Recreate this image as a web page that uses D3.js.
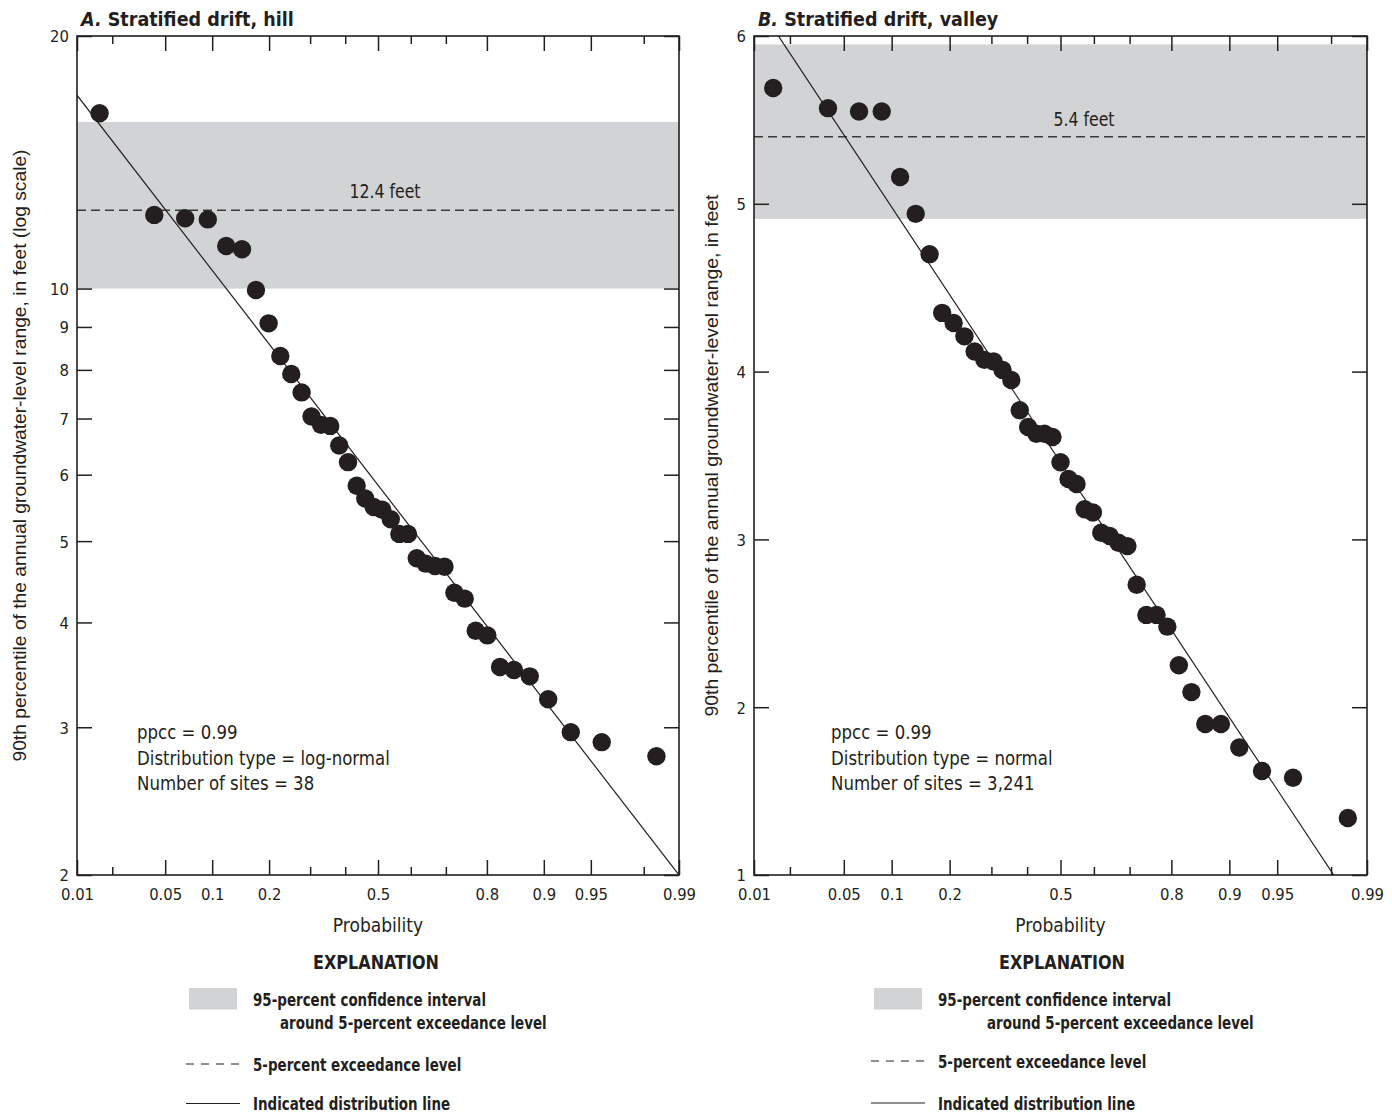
<!DOCTYPE html>
<html>
<head>
<meta charset="utf-8">
<script src="https://cdn.jsdelivr.net/npm/d3@7"></script>
<style>
  html, body { margin: 0; padding: 0; background: #fff; }
  svg { display: block; }
  .cond { font-family: "Liberation Sans Narrow", "DejaVu Sans Condensed", "Arial Narrow", sans-serif; }
  .reg { font-family: "Liberation Sans", Arial, sans-serif; }
</style>
</head>
<body>
<svg id="chart" width="1392" height="1116"></svg>
<script>
// ---------------- DATA ----------------
const probTicks = [0.01, 0.02, 0.05, 0.1, 0.2, 0.3, 0.4, 0.5, 0.6, 0.7, 0.8, 0.9, 0.95, 0.98, 0.99];
const probLabels = [0.01, 0.05, 0.1, 0.2, 0.5, 0.8, 0.9, 0.95, 0.99];

// Panel A: Stratified drift, hill (log scale)
const hillYTicks = [2, 3, 4, 5, 6, 7, 8, 9, 10, 20];
const hillProb = [0.0157, 0.0419, 0.0681, 0.0942, 0.1204, 0.1466, 0.1728, 0.1990, 0.2251, 0.2513,
                  0.2775, 0.3037, 0.3298, 0.3560, 0.3822, 0.4084, 0.4346, 0.4607, 0.4869, 0.5131,
                  0.5393, 0.5654, 0.5916, 0.6178, 0.6440, 0.6702, 0.6963, 0.7225, 0.7487, 0.7749,
                  0.8010, 0.8272, 0.8534, 0.8796, 0.9058, 0.9319, 0.9581, 0.9843];
const hillValue = [16.18, 12.24, 12.13, 12.09, 11.24, 11.14, 9.96, 9.09, 8.31, 7.91,
                   7.52, 7.04, 6.88, 6.86, 6.50, 6.21, 5.82, 5.62, 5.49, 5.45,
                   5.31, 5.10, 5.10, 4.77, 4.70, 4.67, 4.66, 4.34, 4.27, 3.91,
                   3.86, 3.54, 3.51, 3.45, 3.24, 2.96, 2.88, 2.77];
const hillExceed = 12.4;
const hillCI = [10.0, 15.8];
const hillLineProb = [0.01, 0.99];
const hillLineValue = [17.0, 2.0];

// Panel B: Stratified drift, valley (linear scale)
const valleyYTicks = [1, 2, 3, 4, 5, 6];
const valleyProb = [0.0146, 0.0388, 0.0631, 0.0874, 0.1117, 0.1359, 0.1602, 0.1845, 0.2087, 0.2330,
                    0.2573, 0.2816, 0.3058, 0.3301, 0.3544, 0.3786, 0.4029, 0.4272, 0.4515, 0.4757,
                    0.5000, 0.5243, 0.5485, 0.5728, 0.5971, 0.6214, 0.6456, 0.6699, 0.6942, 0.7184,
                    0.7427, 0.7670, 0.7913, 0.8155, 0.8398, 0.8641, 0.8883, 0.9126, 0.9369, 0.9612, 0.9854];
const valleyValue = [5.69, 5.57, 5.55, 5.55, 5.16, 4.94, 4.70, 4.35, 4.29, 4.21,
                     4.12, 4.07, 4.06, 4.01, 3.95, 3.77, 3.67, 3.63, 3.63, 3.61,
                     3.46, 3.36, 3.33, 3.18, 3.16, 3.04, 3.02, 2.98, 2.96, 2.73,
                     2.55, 2.55, 2.48, 2.25, 2.09, 1.90, 1.90, 1.76, 1.62, 1.58, 1.34];
const valleyExceed = 5.4;
const valleyCI = [4.91, 5.95];
const valleyLineProb = [0.01, 0.99];
const valleyLineValue = [6.22, 0.70];

// ---------------- HELPERS ----------------
// inverse standard normal CDF (Acklam)
function probit(p) {
  const a = [-3.969683028665376e+01, 2.209460984245205e+02, -2.759285104469687e+02, 1.383577518672690e+02, -3.066479806614716e+01, 2.506628277459239e+00];
  const b = [-5.447609879822406e+01, 1.615858368580409e+02, -1.556989798598866e+02, 6.680131188771972e+01, -1.328068155288572e+01];
  const c = [-7.784894002430293e-03, -3.223964580411365e-01, -2.400758277161838e+00, -2.549732539343734e+00, 4.374664141464968e+00, 2.938163982698783e+00];
  const d = [7.784695709041462e-03, 3.224671290700398e-01, 2.445134137142996e+00, 3.754408661907416e+00];
  const pl = 0.02425, ph = 1 - pl;
  let q, r;
  if (p < pl) {
    q = Math.sqrt(-2 * Math.log(p));
    return (((((c[0]*q+c[1])*q+c[2])*q+c[3])*q+c[4])*q+c[5]) / ((((d[0]*q+d[1])*q+d[2])*q+d[3])*q+1);
  } else if (p <= ph) {
    q = p - 0.5; r = q*q;
    return (((((a[0]*r+a[1])*r+a[2])*r+a[3])*r+a[4])*r+a[5])*q / (((((b[0]*r+b[1])*r+b[2])*r+b[3])*r+b[4])*r+1);
  } else {
    q = Math.sqrt(-2 * Math.log(1 - p));
    return -(((((c[0]*q+c[1])*q+c[2])*q+c[3])*q+c[4])*q+c[5]) / ((((d[0]*q+d[1])*q+d[2])*q+d[3])*q+1);
  }
}

// narrow a text element horizontally to mimic a condensed typeface
function squeeze(sel, f) {
  sel.each(function () {
    const L = this.getComputedTextLength();
    d3.select(this).attr('textLength', L * f).attr('lengthAdjust', 'spacingAndGlyphs');
  });
  return sel;
}

const svg = d3.select('#chart');
const INK = '#231f20';
const BAND = '#d1d3d4';

function drawPanel(cfg) {
  const g = svg.append('g');
  const top = 36, bottom = 875;
  const x = d3.scaleLinear().domain([probit(0.01), probit(0.99)]).range([cfg.left, cfg.right]);
  const y = cfg.log
    ? d3.scaleLog().domain(cfg.yDomain).range([bottom, top])
    : d3.scaleLinear().domain(cfg.yDomain).range([bottom, top]);
  const X = p => x(probit(p));

  const clipId = 'clip' + cfg.id;
  svg.append('clipPath').attr('id', clipId).append('rect')
    .attr('x', cfg.left).attr('y', top).attr('width', cfg.right - cfg.left).attr('height', bottom - top);

  // confidence band
  g.append('rect')
    .attr('x', cfg.left).attr('width', cfg.right - cfg.left)
    .attr('y', y(cfg.ci[1])).attr('height', y(cfg.ci[0]) - y(cfg.ci[1]))
    .attr('fill', BAND);

  // exceedance dashed line
  g.append('line')
    .attr('x1', cfg.left).attr('x2', cfg.right)
    .attr('y1', y(cfg.exceed)).attr('y2', y(cfg.exceed))
    .attr('stroke', '#3a3a3a').attr('stroke-width', 1.4).attr('stroke-dasharray', '9,5');

  squeeze(g.append('text').attr('class', 'cond')
    .attr('x', cfg.exceedLabelX).attr('y', cfg.exceedLabelY)
    .attr('text-anchor', 'middle').attr('font-size', 19).attr('fill', INK)
    .text(cfg.exceedLabel), 0.92);

  // distribution line
  const lineData = cfg.lineProb.map((p, i) => [p, cfg.lineValue[i]]);
  g.append('path')
    .datum(lineData)
    .attr('clip-path', `url(#${clipId})`)
    .attr('d', d3.line().x(d => X(d[0])).y(d => y(d[1])))
    .attr('fill', 'none').attr('stroke', INK).attr('stroke-width', 1.2);

  // points
  const pts = cfg.prob.map((p, i) => ({ p, v: cfg.value[i] }));
  g.selectAll('circle.pt').data(pts).enter().append('circle')
    .attr('class', 'pt')
    .attr('cx', d => X(d.p)).attr('cy', d => y(d.v)).attr('r', 9.2)
    .attr('fill', INK);

  // axes
  const labeled = probLabels.map(probit);
  const unlabeled = probTicks.filter(p => !probLabels.includes(p)).map(probit);
  const fmt = z => { const p = probLabels.find(q => Math.abs(probit(q) - z) < 1e-9); return String(p); };

  g.append('g').attr('transform', `translate(0,${bottom})`)
    .call(d3.axisBottom(x).tickValues(labeled).tickSize(-15).tickPadding(13).tickFormat(fmt));
  g.append('g').attr('transform', `translate(0,${bottom})`)
    .call(d3.axisBottom(x).tickValues(unlabeled).tickSize(-8).tickFormat(''));
  g.append('g').attr('transform', `translate(0,${top})`)
    .call(d3.axisTop(x).tickValues(labeled).tickSize(-15).tickFormat(''));
  g.append('g').attr('transform', `translate(0,${top})`)
    .call(d3.axisTop(x).tickValues(unlabeled).tickSize(-8).tickFormat(''));

  const ly = g.append('g').attr('transform', `translate(${cfg.left},0)`)
    .call(d3.axisLeft(y).tickValues(cfg.yTicks).tickSize(-15).tickPadding(8).tickFormat(d3.format('d')));
  g.append('g').attr('transform', `translate(${cfg.right},0)`)
    .call(d3.axisRight(y).tickValues(cfg.yTicks).tickSize(-15).tickFormat(''));

  g.selectAll('.domain').remove();
  g.selectAll('.tick line').attr('stroke', INK).attr('stroke-width', 1.5);
  g.selectAll('.tick text').attr('class', 'cond').attr('font-size', 16.5).attr('fill', INK);
  ly.selectAll('.tick text').attr('dy', '0.36em');

  // frame
  g.append('rect')
    .attr('x', cfg.left).attr('y', top).attr('width', cfg.right - cfg.left).attr('height', bottom - top)
    .attr('fill', 'none').attr('stroke', INK).attr('stroke-width', 1.6);

  // title
  const t = g.append('text').attr('class', 'cond')
    .attr('x', cfg.left + 4).attr('y', 26).attr('font-size', 19.5).attr('font-weight', 'bold').attr('fill', INK);
  t.append('tspan').attr('font-style', 'italic').text(cfg.letter + '.');
  t.append('tspan').text(' ' + cfg.title);

  // y axis title
  g.append('text').attr('class', 'reg')
    .attr('transform', `translate(${cfg.yTitleX},${(top + bottom) / 2}) rotate(-90)`)
    .attr('text-anchor', 'middle').attr('font-size', 17.5).attr('fill', INK)
    .attr('textLength', cfg.yTitleLen).attr('lengthAdjust', 'spacingAndGlyphs')
    .text(cfg.yTitle);

  // x axis title
  g.append('text').attr('class', 'cond')
    .attr('x', (cfg.left + cfg.right) / 2).attr('y', 932)
    .attr('text-anchor', 'middle').attr('font-size', 19).attr('fill', INK)
    .text('Probability');

  // stats annotation
  cfg.stats.forEach((s, i) => {
    squeeze(g.append('text').attr('class', 'cond')
      .attr('x', cfg.statsX).attr('y', 739 + i * 25.5)
      .attr('font-size', 19).attr('fill', INK).text(s), 0.97);
  });

  // legend
  const lg = g.append('g');
  const cx = cfg.legend.cx;
  squeeze(lg.append('text').attr('class', 'cond').attr('x', cx).attr('y', 969)
    .attr('text-anchor', 'middle').attr('font-size', 20).attr('font-weight', 'bold').attr('fill', INK)
    .text('EXPLANATION'), 0.89);
  lg.append('rect').attr('x', cfg.legend.sx + 3).attr('y', 988).attr('width', 48).attr('height', 21.5).attr('fill', BAND);
  const legText = (xx, yy, s) => squeeze(lg.append('text').attr('class', 'cond').attr('x', xx).attr('y', yy)
    .attr('font-size', 18).attr('font-weight', 'bold').attr('fill', INK).text(s), 0.83);
  legText(cfg.legend.tx, 1006, '95-percent confidence interval');
  legText(cfg.legend.tx2, 1029, 'around 5-percent exceedance level');
  lg.append('line').attr('x1', cfg.legend.sx).attr('x2', cfg.legend.sx + 54)
    .attr('y1', cfg.legend.dy).attr('y2', cfg.legend.dy)
    .attr('stroke', INK).attr('stroke-width', 1).attr('stroke-dasharray', '8,7');
  legText(cfg.legend.tx, cfg.legend.dy + 6.5, '5-percent exceedance level');
  lg.append('line').attr('x1', cfg.legend.sx).attr('x2', cfg.legend.sx + 54)
    .attr('y1', cfg.legend.sy).attr('y2', cfg.legend.sy)
    .attr('stroke', INK).attr('stroke-width', 1.2);
  legText(cfg.legend.tx, cfg.legend.sy + 6.5, 'Indicated distribution line');
}

drawPanel({
  id: 'A', letter: 'A', title: 'Stratified drift, hill',
  left: 77, right: 679, log: true, yDomain: [2, 20], yTicks: hillYTicks,
  prob: hillProb, value: hillValue, exceed: hillExceed, ci: hillCI,
  lineProb: hillLineProb, lineValue: hillLineValue,
  exceedLabel: '12.4 feet', exceedLabelX: 385, exceedLabelY: 198,
  yTitle: '90th percentile of the annual groundwater-level range, in feet (log scale)', yTitleX: 26, yTitleLen: 612,
  stats: ['ppcc = 0.99', 'Distribution type = log-normal', 'Number of sites = 38'], statsX: 137,
  legend: { cx: 376, sx: 186, tx: 253, tx2: 280, dy: 1064, sy: 1103.5 }
});

drawPanel({
  id: 'B', letter: 'B', title: 'Stratified drift, valley',
  left: 754, right: 1367, log: false, yDomain: [1, 6], yTicks: valleyYTicks,
  prob: valleyProb, value: valleyValue, exceed: valleyExceed, ci: valleyCI,
  lineProb: valleyLineProb, lineValue: valleyLineValue,
  exceedLabel: '5.4 feet', exceedLabelX: 1084, exceedLabelY: 126,
  yTitle: '90th percentile of the annual groundwater-level range, in feet', yTitleX: 718, yTitleLen: 522,
  stats: ['ppcc = 0.99', 'Distribution type = normal', 'Number of sites = 3,241'], statsX: 831,
  legend: { cx: 1062, sx: 871, tx: 938, tx2: 987, dy: 1061, sy: 1103 }
});
</script>
</body>
</html>
